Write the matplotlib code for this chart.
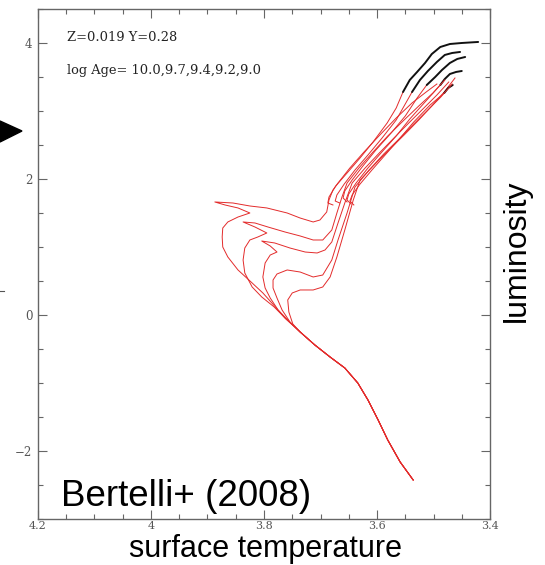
import matplotlib.pyplot as plt
from matplotlib.ticker import MultipleLocator, FuncFormatter
from matplotlib.patches import Polygon
from matplotlib.lines import Line2D

# Padova isochrones, Z=0.019 Y=0.28 (log Teff, log L/Lsun)
ages = ['10.0', '9.7', '9.4', '9.2', '9.0']

# lower main sequence, common to all ages
ms_teff = [3.536, 3.559, 3.581, 3.598, 3.616, 3.634, 3.657, 3.683, 3.710, 3.736]
ms_lum = [-2.426, -2.162, -1.838, -1.544, -1.250, -1.000, -0.779, -0.618, -0.441, -0.250]

# upper main sequence, turn-off hook and subgiant branch
to_teff = [
    [3.749, 3.756, 3.758, 3.750, 3.736, 3.713, 3.696, 3.683, 3.671, 3.657, 3.642, 3.630],
    [3.754, 3.768, 3.777, 3.784, 3.784, 3.777, 3.759, 3.736, 3.713, 3.696, 3.680, 3.669,
     3.653, 3.639],
    [3.758, 3.775, 3.789, 3.798, 3.802, 3.798, 3.789, 3.777, 3.789, 3.804, 3.781, 3.754,
     3.727, 3.706, 3.692, 3.680, 3.669, 3.657, 3.644],
    [3.761, 3.782, 3.804, 3.821, 3.834, 3.837, 3.834, 3.825, 3.811, 3.795, 3.816, 3.837,
     3.816, 3.793, 3.763, 3.736, 3.713, 3.696, 3.680, 3.671, 3.662, 3.653],
    [3.763, 3.786, 3.802, 3.821, 3.846, 3.864, 3.873, 3.874, 3.873, 3.864, 3.846, 3.825,
     3.846, 3.869, 3.887, 3.855, 3.825, 3.795, 3.759, 3.736, 3.713, 3.701, 3.689, 3.685,
     3.678, 3.669],
]
to_lum = [
    [-0.132, 0.044, 0.221, 0.324, 0.368, 0.368, 0.412, 0.559, 0.853, 1.250, 1.691, 1.985],
    [-0.103, 0.074, 0.250, 0.397, 0.515, 0.603, 0.662, 0.632, 0.559, 0.588, 0.809, 1.103,
     1.500, 1.882],
    [-0.074, 0.074, 0.250, 0.397, 0.559, 0.765, 0.882, 0.926, 1.015, 1.088, 1.059, 0.985,
     0.926, 0.912, 0.956, 1.074, 1.353, 1.647, 1.941],
    [-0.059, 0.118, 0.265, 0.412, 0.618, 0.809, 0.985, 1.103, 1.147, 1.206, 1.294, 1.368,
     1.353, 1.294, 1.221, 1.162, 1.103, 1.103, 1.250, 1.500, 1.735, 1.941],
    [-0.044, 0.176, 0.324, 0.471, 0.662, 0.853, 1.000, 1.147, 1.279, 1.368, 1.441, 1.500,
     1.574, 1.618, 1.662, 1.647, 1.603, 1.574, 1.500, 1.426, 1.368, 1.397, 1.515, 1.691,
     1.838, 1.941],
]

# red giant branch
rgb_teff = [
    [3.605, 3.579, 3.552, 3.526, 3.503, 3.481, 3.462],
    [3.614, 3.588, 3.561, 3.535, 3.510, 3.487, 3.467],
    [3.621, 3.596, 3.570, 3.542, 3.517, 3.494, 3.473],
    [3.632, 3.607, 3.581, 3.552, 3.526, 3.501, 3.480],
    [3.648, 3.623, 3.595, 3.566, 3.538, 3.513, 3.494],
]
rgb_lum = [
    [2.206, 2.426, 2.647, 2.868, 3.074, 3.279, 3.485],
    [2.132, 2.368, 2.588, 2.809, 3.015, 3.206, 3.397],
    [2.162, 2.382, 2.603, 2.838, 3.044, 3.235, 3.426],
    [2.162, 2.397, 2.632, 2.868, 3.074, 3.265, 3.456],
    [2.162, 2.397, 2.647, 2.897, 3.118, 3.279, 3.397],
]

# core He burning and early AGB
agb_teff = [
    [3.641, 3.648, 3.644, 3.630, 3.609, 3.584, 3.559, 3.535, 3.506, 3.481],
    [3.646, 3.653, 3.650, 3.637, 3.616, 3.593, 3.566, 3.542, 3.515, 3.488],
    [3.653, 3.660, 3.657, 3.644, 3.625, 3.602, 3.575, 3.550, 3.529, 3.512],
    [3.666, 3.674, 3.671, 3.658, 3.639, 3.616, 3.591, 3.566, 3.550, 3.538],
    [3.678, 3.687, 3.685, 3.673, 3.653, 3.630, 3.607, 3.582, 3.566, 3.554],
]
agb_lum = [
    [1.618, 1.676, 1.765, 1.926, 2.132, 2.368, 2.603, 2.838, 3.088, 3.265],
    [1.632, 1.691, 1.779, 1.941, 2.162, 2.382, 2.632, 2.882, 3.132, 3.382],
    [1.662, 1.721, 1.824, 1.985, 2.191, 2.426, 2.676, 2.926, 3.191, 3.382],
    [1.647, 1.676, 1.765, 1.926, 2.132, 2.353, 2.603, 2.868, 3.103, 3.279],
    [1.618, 1.647, 1.735, 1.897, 2.088, 2.309, 2.544, 2.824, 3.044, 3.279],
]

# thermally pulsing AGB
tp_teff = [
    [3.481, 3.474, 3.466],
    [3.488, 3.480, 3.471, 3.460, 3.450],
    [3.512, 3.497, 3.485, 3.471, 3.458, 3.444],
    [3.538, 3.524, 3.510, 3.494, 3.480, 3.467, 3.453],
    [3.554, 3.542, 3.529, 3.515, 3.503, 3.488, 3.471, 3.450, 3.421],
]
tp_lum = [
    [3.265, 3.338, 3.382],
    [3.382, 3.471, 3.544, 3.574, 3.588],
    [3.382, 3.500, 3.603, 3.706, 3.765, 3.794],
    [3.279, 3.456, 3.588, 3.721, 3.824, 3.853, 3.868],
    [3.279, 3.456, 3.574, 3.706, 3.838, 3.941, 3.985, 4.000, 4.015],
]

red = '#e32b2b'

fig = plt.figure(figsize=(5.45, 5.65), dpi=100)
ax = fig.add_axes([0.0697, 0.0814, 0.8294, 0.9027])

for i in range(len(ages)):
    xs = ms_teff + to_teff[i] + rgb_teff[i]
    ys = ms_lum + to_lum[i] + rgb_lum[i]
    ax.plot(xs, ys, color=red, lw=0.7)
    ax.plot(agb_teff[i], agb_lum[i], color=red, lw=0.7)
    ax.plot(tp_teff[i], tp_lum[i], color='#111111', lw=1.4, solid_capstyle='round')

ax.set_xlim(4.2, 3.4)
ax.set_ylim(-3, 4.5)

ax.xaxis.set_major_locator(MultipleLocator(0.2))
ax.xaxis.set_minor_locator(MultipleLocator(0.05))
ax.yaxis.set_major_locator(MultipleLocator(2))
ax.yaxis.set_minor_locator(MultipleLocator(0.5))
fmt = FuncFormatter(lambda v, p: ('%g' % round(v, 2)).replace('-', '\u2212'))
ax.xaxis.set_major_formatter(fmt)
ax.yaxis.set_major_formatter(fmt)

ax.tick_params(which='both', direction='in', top=True, right=True,
               color='#666666', width=0.8, labelcolor='#555555')
ax.tick_params(which='major', length=6.5, labelsize=8.5, pad=4)
ax.tick_params(axis='x', which='major', labelsize=8, pad=1.5)
ax.tick_params(which='minor', length=3.6)
for lab in ax.get_xticklabels() + ax.get_yticklabels():
    lab.set_family('DejaVu Serif')
for s in ax.spines.values():
    s.set_color('#666666')
    s.set_linewidth(1.0)

ax.text(0.064, 0.945, 'Z=0.019 Y=0.28', transform=ax.transAxes,
        family='DejaVu Serif', fontsize=9.4, color='#222222', va='center')
ax.text(0.064, 0.879, 'log Age= ' + ','.join(ages), transform=ax.transAxes,
        family='DejaVu Serif', fontsize=9.4, color='#222222', va='center')

ax.text(0.05, 0.026, 'Bertelli+ (2008)', transform=ax.transAxes,
        family='Liberation Sans', fontsize=26.5, color='black', va='baseline')

fig.text(0.488, 0.002, 'surface temperature', family='Liberation Sans',
         fontsize=22, ha='center', va='bottom')
fig.text(0.949, 0.556, 'luminosity', family='Liberation Sans', fontsize=23,
         rotation=90, ha='center', va='center')

# arrowhead entering from the left edge, and a stray dash below it
fig.patches.append(Polygon([(0, 1 - 121 / 565), (0, 1 - 142 / 565), (22 / 545, 1 - 131 / 565)],
                           closed=True, transform=fig.transFigure, color='black'))
fig.lines.append(Line2D([0, 4 / 545], [1 - 291 / 565, 1 - 291 / 565],
                        transform=fig.transFigure, color='#555555', lw=0.8))

fig.savefig('out.png', dpi=100)
